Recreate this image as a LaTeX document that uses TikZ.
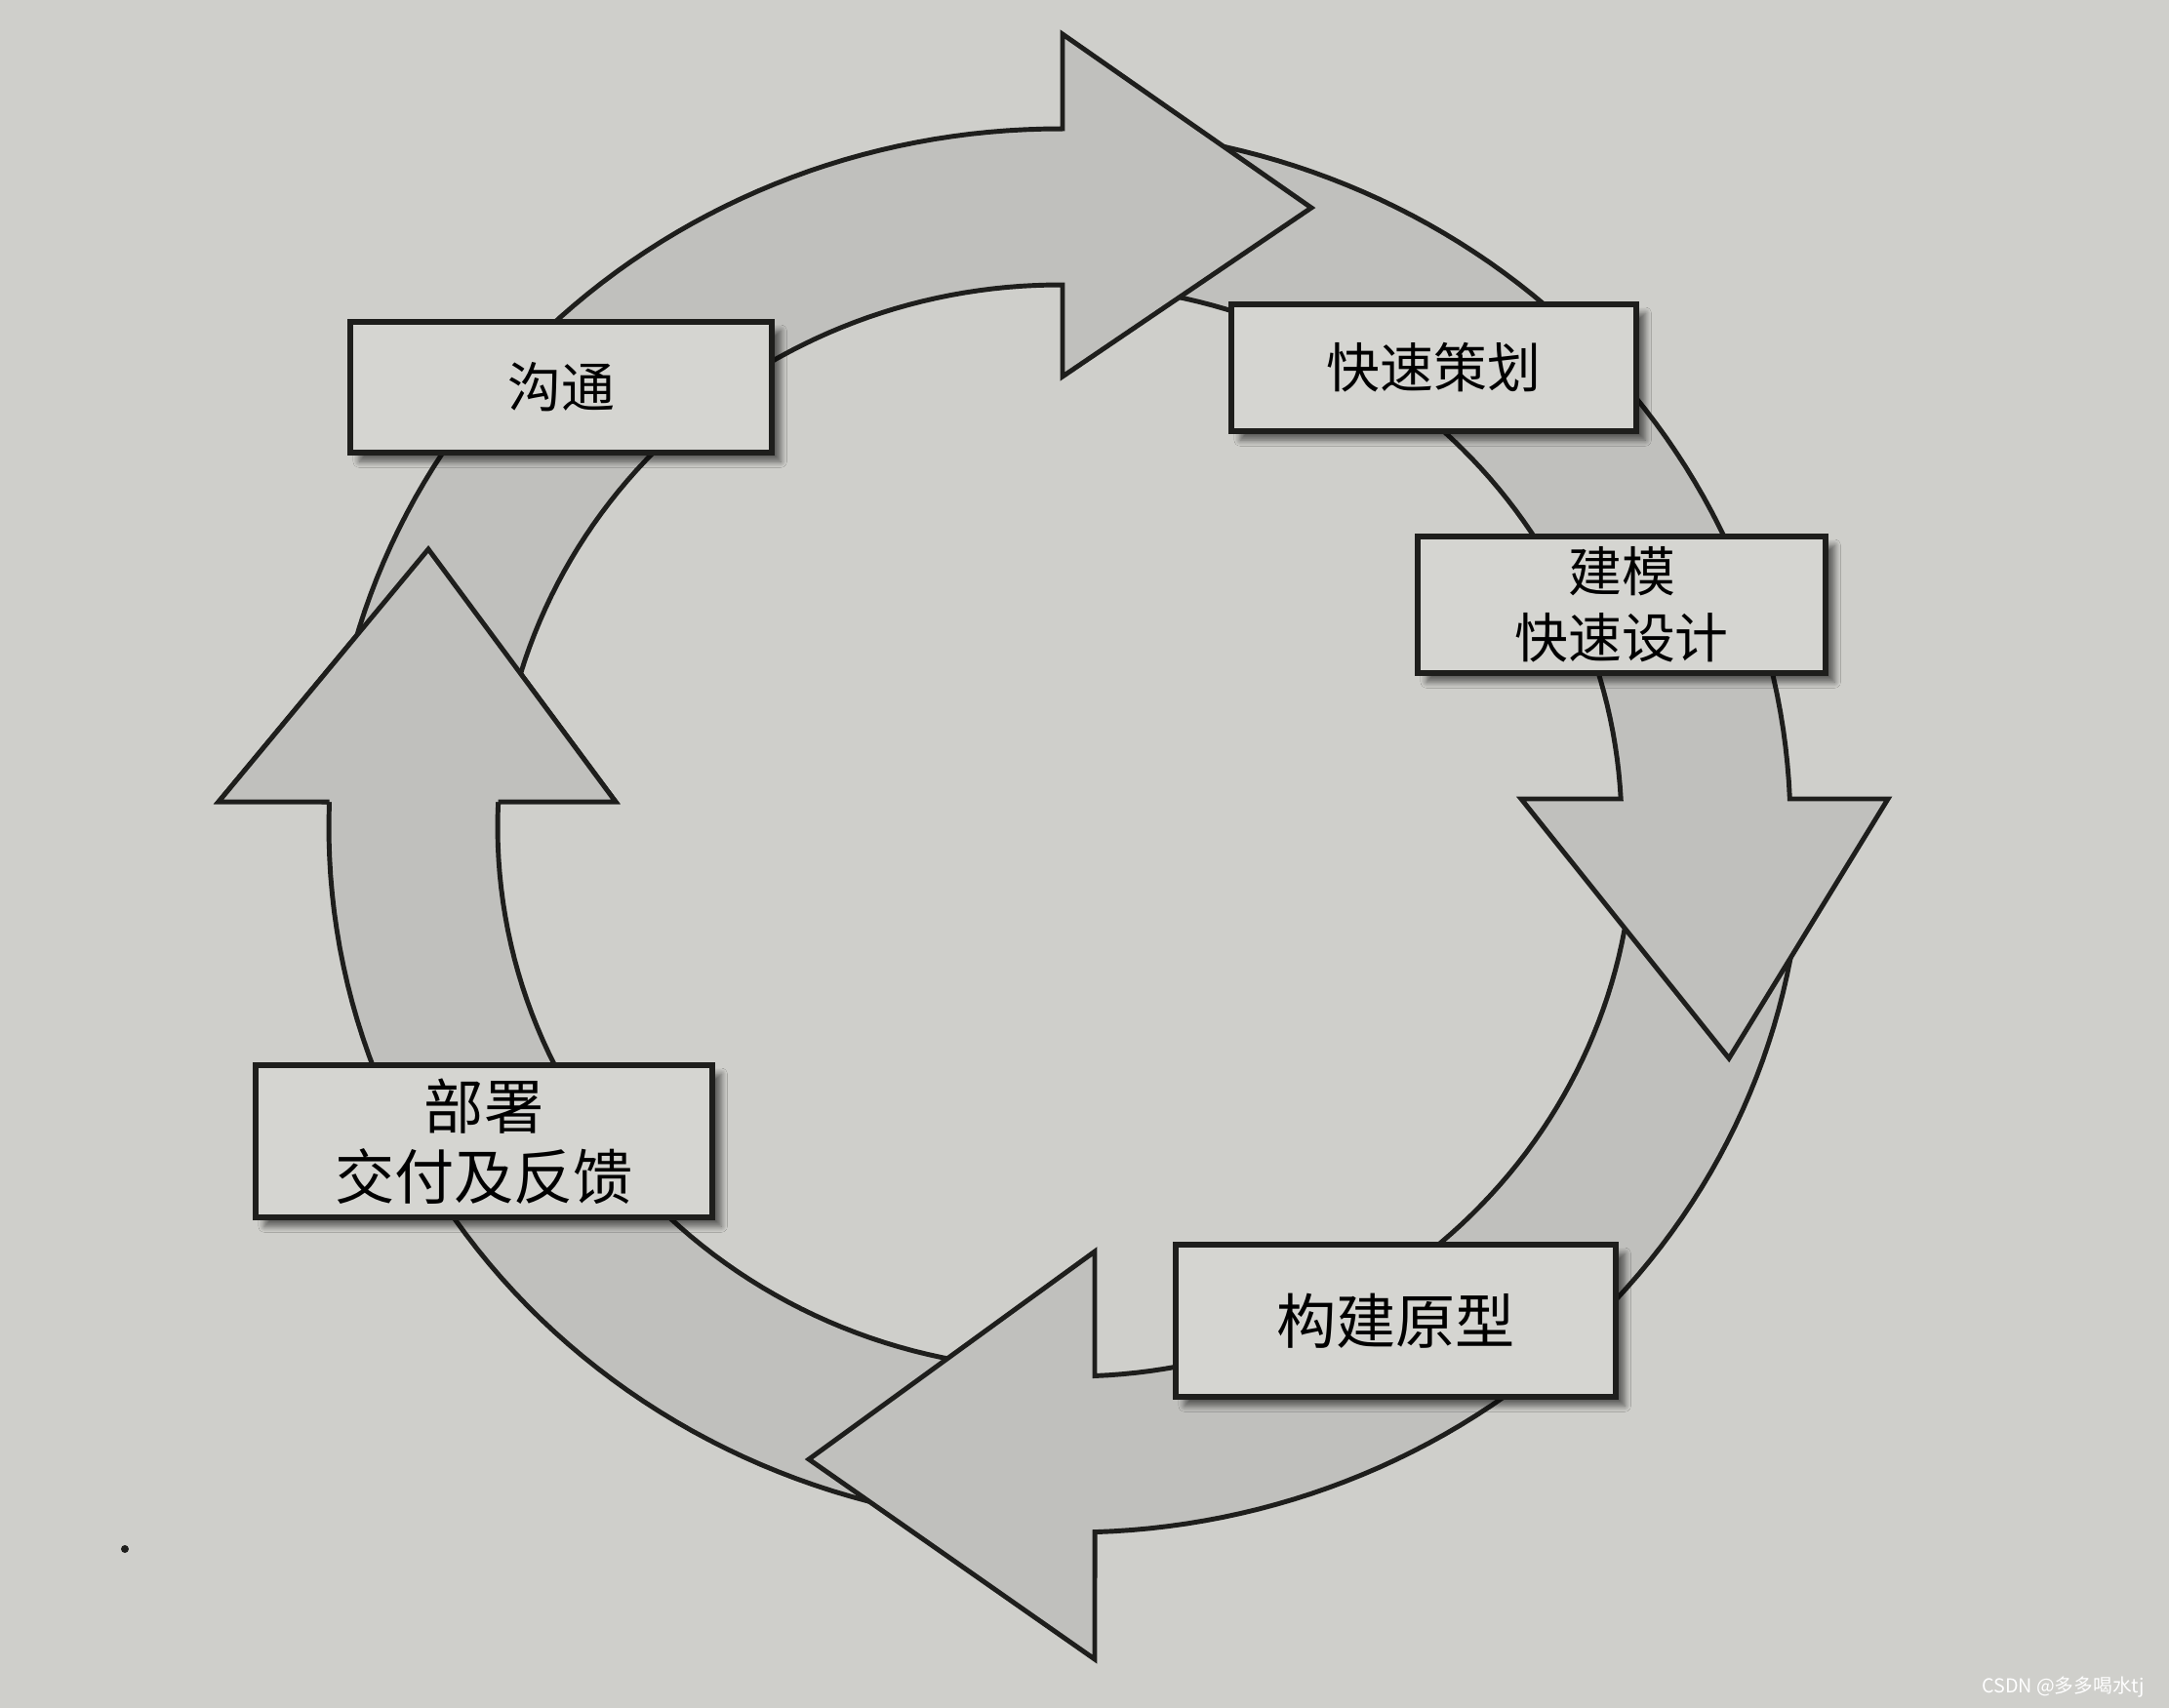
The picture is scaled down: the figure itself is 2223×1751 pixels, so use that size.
\documentclass[tikz,border=0pt]{standalone}
\usepackage{fontspec}
\newfontfamily\cjk{Noto Sans CJK SC}
\usetikzlibrary{shadows.blur}
\definecolor{paper}{RGB}{207,207,203}
\definecolor{ringfill}{RGB}{192,192,189}
\definecolor{boxfill}{RGB}{213,213,209}
\definecolor{inkc}{RGB}{30,30,28}
\begin{document}
\begin{tikzpicture}[x=0.01cm, y=-0.01cm,
  ringarrow/.style={fill=ringfill, draw=inkc, line width=1.4pt, line join=miter, miter limit=20},
  ringline/.style={draw=inkc, line width=1.4pt, line join=miter, miter limit=20},
  stepbox/.style={draw=inkc, line width=1.7pt, fill=boxfill, inner sep=0pt, align=center,
    blur shadow={shadow xshift=2.6pt, shadow yshift=-2.6pt, shadow blur steps=6, shadow opacity=55}},
  labA/.style={font={\cjk\fontsize{15.6pt}{19.4pt}\selectfont}},
  labB/.style={font={\cjk\fontsize{17.4pt}{20.5pt}\selectfont}}
]
\fill[paper] (0,0) rectangle (2223,1751);
\useasboundingbox (0,0) rectangle (2223,1751);

% A4: bottom -> left (pointing up)
\draw[ringarrow] plot[domain=93:182.08, samples=60, variable=\t] ({1086+749*cos(\t)},{848+716*sin(\t)})
  -- (224,822) -- (439,563) -- (631,822)
  -- plot[domain=182.68:93, samples=60, variable=\t] ({1086+576*cos(\t)},{848+556*sin(\t)}) -- cycle;
% A3: right -> bottom (pointing left)
\draw[ringarrow] plot[domain=3:88.16, samples=60, variable=\t] ({1098+749*cos(\t)},{855+716*sin(\t)})
  -- (1122,1701) -- (829,1496) -- (1122,1283)
  -- plot[domain=87.61:3, samples=60, variable=\t] ({1098+576*cos(\t)},{855+556*sin(\t)}) -- cycle;
% A2: top -> right (pointing down)
\draw[ringarrow] plot[domain=273:357.68, samples=60, variable=\t] ({1086+749*cos(\t)},{848+716*sin(\t)})
  -- (1935,819) -- (1772,1085) -- (1559,819)
  -- plot[domain=357.01:273, samples=60, variable=\t] ({1086+576*cos(\t)},{848+556*sin(\t)}) -- cycle;
% A1: left -> top (pointing right)
\draw[ringarrow] plot[domain=185:270.23, samples=60, variable=\t] ({1086+749*cos(\t)},{848+716*sin(\t)})
  -- (1089,35) -- (1344,213) -- (1089,386)
  -- plot[domain=270.3:185, samples=60, variable=\t] ({1086+576*cos(\t)},{848+556*sin(\t)}) -- cycle;
% head of A4 again, on top of the tail of A1
\fill[ringfill] (224,822) -- (439,563) -- (631,822) -- cycle;
\draw[ringline] (337.5,822) -- (224,822) -- (439,563) -- (631,822) -- (510.6,822);

% boxes
\node[stepbox, labA, minimum width=4.32cm, minimum height=1.34cm] (goutong) at (575,397) {沟通};
\node[stepbox, labA, minimum width=4.15cm, minimum height=1.30cm] (cehua) at (1469.5,377) {快速策划};
\node[stepbox, labA, minimum width=4.18cm, minimum height=1.40cm] (jianmo) at (1662,620) {建模\\快速设计};
\node[stepbox, labB, minimum width=4.51cm, minimum height=1.56cm] (yuanxing) at (1430.5,1354) {构建原型};
\node[stepbox, labB, minimum width=4.68cm, minimum height=1.56cm] (bushu) at (496,1170) {部署\\交付及反馈};

% speck and watermark
\fill[inkc] (128,1588) circle (4);
\node[font={\cjk\fontsize{5.6pt}{6.5pt}\selectfont}, text=white, anchor=east] (wm) at (2210,1730) {CSDN @多多喝水tj};
\end{tikzpicture}
\end{document}
